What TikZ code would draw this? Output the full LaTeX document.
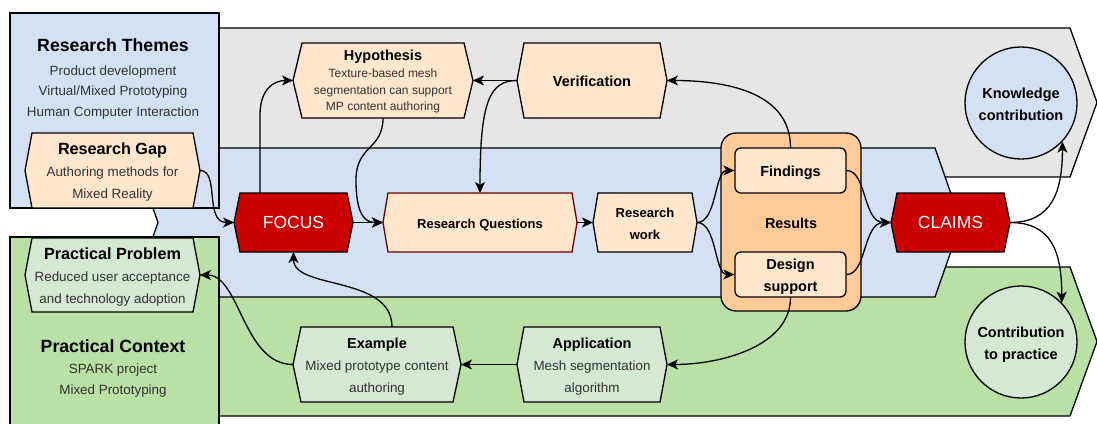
\documentclass[tikz,border=0pt]{standalone}
\usepackage{fontspec}
\setmainfont{Liberation Sans}
\usetikzlibrary{arrows.meta}

\definecolor{bandgray}{HTML}{E6E6E6}
\definecolor{bandblue}{HTML}{D4E1F5}
\definecolor{bandgreen}{HTML}{B9E0A5}
\definecolor{palegreen}{HTML}{D5E8D4}
\definecolor{paleorange}{HTML}{FFE6CC}
\definecolor{midorange}{HTML}{FFCC99}
\definecolor{claimred}{HTML}{CC0000}
\definecolor{rqstroke}{HTML}{6F0000}
\definecolor{bodytext}{HTML}{333333}

% heading helpers
\newcommand{\hexhead}[1]{{\fontsize{14.5}{22}\selectfont\bfseries\color{black}#1}}
\newcommand{\sidehead}[1]{{\fontsize{16.2}{22}\selectfont\bfseries\color{black}#1}}
\newcommand{\smallhead}[1]{{\fontsize{13}{22}\selectfont\bfseries\color{black}#1}}
\newcommand{\redlabel}[1]{{\fontsize{17.5}{21}\selectfont\color{white}#1}}
% centred stack of lines, set slightly lower than its measured box
\newcommand{\dropped}[1]{\raisebox{-2pt}[\height][\depth]{\begin{tabular}{@{}c@{}}#1\end{tabular}}}

% hexagon: style, name, cx, cy, width, height, inset, text
\newcommand{\hexnode}[8]{%
  \path[#1] ({#3-#5/2},#4) -- ({#3-#5/2+#7},{#4-#6/2}) -- ({#3+#5/2-#7},{#4-#6/2})
    -- ({#3+#5/2},#4) -- ({#3+#5/2-#7},{#4+#6/2}) -- ({#3-#5/2+#7},{#4+#6/2}) -- cycle;
  \node[hexlabel, minimum width=#5, minimum height=#6] (#2) at (#3,#4) {\dropped{#8}};}

\tikzset{
  outline/.style={draw=black, line width=1.3pt, line join=miter},
  band/.style={outline},
  panel/.style={outline},
  hexorange/.style={outline, fill=paleorange},
  hexgreen/.style={outline, fill=palegreen},
  hexred/.style={outline, fill=claimred},
  hexrq/.style={draw=rqstroke, line width=1.3pt, fill=paleorange},
  hexlabel/.style={inner sep=0pt, outer sep=0pt,
    font=\fontsize{13.4}{22}\selectfont, text=bodytext},
  paneltitle/.style={font=\fontsize{17.7}{21}\selectfont\bfseries, text=black, inner sep=0pt},
  panelbody/.style={align=center, font=\fontsize{13.4}{20.5}\selectfont, text=bodytext, inner sep=0pt},
  resultbox/.style={outline, fill=midorange, rounded corners=15pt, inner sep=0pt,
    font=\fontsize{14.4}{22}\selectfont\bfseries},
  subresult/.style={outline, fill=paleorange, rounded corners=6pt, inner sep=0pt,
    minimum width=111pt, minimum height=45pt, font=\fontsize{14.5}{22}\selectfont\bfseries},
  goal/.style={outline, circle, minimum size=112pt, inner sep=0pt,
    font=\fontsize{14.5}{22}\selectfont\bfseries},
  conn/.style={draw=black, line width=1.3pt,
    -{Stealth[length=11pt,width=10pt,inset=3pt]}},
}

\begin{document}
\begin{tikzpicture}[x=1pt,y=-1pt]
\useasboundingbox (0,0) rectangle (1097,423);

% three horizontal process bands
\path[band, fill=bandgray]  (150,28) -- (1070,28) -- (1097,102.5) -- (1070,177) -- (150,177) -- (176,102.5) -- cycle;
\path[band, fill=bandgreen] (150,267) -- (1070,267) -- (1097,341.5) -- (1070,416) -- (150,416) -- (176,341.5) -- cycle;
\path[band, fill=bandblue]  (132,148) -- (935,148) -- (961,222.5) -- (935,297) -- (132,297) -- (158,222.5) -- cycle;

% side panels
\path[panel, fill=bandblue]  (10,13) rectangle (219,208);
\path[panel, fill=bandgreen] (10,237) rectangle (219,432);

\node[paneltitle] (themes) at (113,45) {Research Themes};
\node[panelbody] (themelist) at (113,92.5) {Product development\\Virtual/Mixed Prototyping\\Human Computer Interaction};
\node[paneltitle] (context) at (113,346) {Practical Context};
\node[panelbody] (contextlist) at (113,380.5) {SPARK project\\Mixed Prototyping};

% hexagon nodes
\hexnode{hexorange}{gap}{112.5}{170.5}{175}{75}{7}{\sidehead{Research Gap}\\Authoring methods for\\Mixed Reality}
\hexnode{hexgreen}{pp}{112.5}{275}{175}{74}{7}{\sidehead{Practical Problem}\\Reduced user acceptance\\and technology adoption}
\path[hexred] (234,222.5) -- (240,193) -- (347,193) -- (353,222.5) -- (347,252) -- (240,252) -- cycle;
\node[hexlabel, minimum width=119, minimum height=59] (focus) at (293.5,222.5) {\redlabel{FOCUS}};
\hexnode{hexrq}{rq}{480}{222.5}{194}{59}{5}{\smallhead{Research Questions}}
\hexnode{hexorange}{rw}{645}{222.5}{104}{59}{5}{\smallhead{Research}\\\smallhead{work}}
\path[hexred] (891,222.5) -- (897,193) -- (1004,193) -- (1010,222.5) -- (1004,252) -- (897,252) -- cycle;
\node[hexlabel, minimum width=119, minimum height=59] (claims) at (950.5,222.5) {\redlabel{CLAIMS}};
\hexnode{hexorange}{ver}{592}{80.5}{150}{75}{7}{\hexhead{Verification}}
\hexnode{hexgreen}{ex}{377}{364.5}{168}{75}{8}{\hexhead{Example}\\Mixed prototype content\\authoring}
\hexnode{hexgreen}{app}{592}{364.5}{150}{75}{7}{\hexhead{Application}\\Mesh segmentation\\algorithm}
\path[hexorange] (293,80.5) -- (302,43) -- (464,43) -- (473,80.5) -- (464,118) -- (302,118) -- cycle;
\node[hexlabel, minimum width=180, minimum height=75, font=\fontsize{12}{16.7}\selectfont] (hyp) at (383,80.5)
  {\dropped{{\fontsize{14.5}{16.7}\selectfont\bfseries\color{black}Hypothesis}\\Texture-based mesh\\segmentation can support\\MP content authoring}};

% results group
\node[resultbox, minimum width=140pt, minimum height=178pt] (res) at (791,222) {\dropped{Results}};
\node[subresult] (find) at (790.5,170.5) {\dropped{Findings}};
\node[subresult] (design) at (790.5,274.5) {\dropped{Design\\support}};

% contributions
\node[goal, fill=bandblue] (know) at (1021,103) {\dropped{Knowledge\\contribution}};
\node[goal, fill=palegreen] (contrib) at (1021,342) {\dropped{Contribution\\to practice}};

% connectors
\coordinate (qbend) at (356,180);
\draw[conn] (gap.east) .. controls +(20,0) and +(-30,0) .. (focus.west);
\draw[conn] ([xshift=-33.5pt]focus.north) -- ++(0,-78) .. controls +(0,-25) and +(-20,0) .. (hyp.west);
\draw[conn] (hyp.south) .. controls +(0,32) and +(0,-35) .. (qbend) .. controls +(0,35) and +(-18,0) .. (rq.west);
\draw[conn] (focus.east) -- (rq.west);
\draw[conn] (ver.west) -- (hyp.east);
\draw[conn] (ver.west) .. controls +(-28,0) and +(0,-90) .. (rq.north);
\draw[conn] (rq.east) -- (rw.west);
\draw[conn] (rw.east) .. controls +(20,0) and +(-20,0) .. (find.west);
\draw[conn] (rw.east) .. controls +(20,0) and +(-20,0) .. (design.west);
\draw[conn] (find.north) .. controls +(0,-58) and +(52,0) .. (ver.east);
\draw[conn] (find.east) .. controls +(20,0) and +(-28,0) .. (claims.west);
\draw[conn] (design.east) .. controls +(20,0) and +(-28,0) .. (claims.west);
\draw[conn] (claims.east) .. controls +(42,0) and +(0,50) .. (know.-43);
\draw[conn] (claims.east) .. controls +(42,0) and +(0,-50) .. (contrib.44);
\draw[conn] (design.south) .. controls +(0,48) and +(55,0) .. (app.east);
\draw[conn] (app.west) -- (ex.east);
\draw[conn] ([xshift=15pt]ex.north) .. controls +(0,-52) and +(0,38) .. (focus.south);
\draw[conn] (ex.west) .. controls +(-50,0) and +(40,0) .. (pp.east);
\end{tikzpicture}
\end{document}
